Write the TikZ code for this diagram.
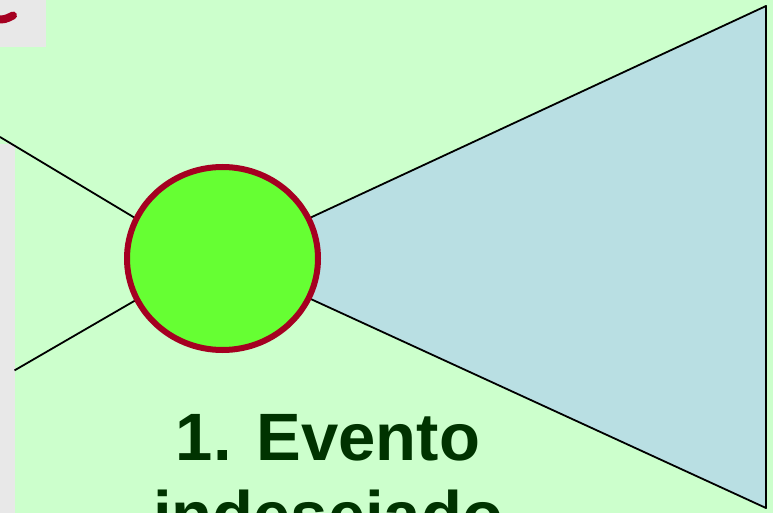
\documentclass[tikz,border=0pt]{standalone}
\usepackage{fontspec}
\setmainfont{Liberation Sans}
\usetikzlibrary{shapes.geometric}
\definecolor{bgg}{HTML}{CCFFCC}
\definecolor{panelgray}{HTML}{E8E8E8}
\definecolor{evred}{HTML}{A50021}
\definecolor{evgreen}{HTML}{66FF33}
\definecolor{conblue}{HTML}{B9DFE3}
\definecolor{txtgreen}{HTML}{003300}
\tikzset{
  edge/.style={draw=black, line width=1.8pt, line join=round},
  event/.style={ellipse, draw=evred, fill=evgreen, line width=6pt, minimum width=191pt, minimum height=183pt, inner sep=0pt},
  title/.style={text=txtgreen, font=\bfseries\fontsize{67}{67}\selectfont, anchor=base, inner sep=0pt}
}
\begin{document}
\begin{tikzpicture}[x=1pt,y=-1pt]
\useasboundingbox (0,0) rectangle (773,513);
\clip (0,0) rectangle (773,513);
\fill[bgg] (0,0) rectangle (773,513);
% top-left panel
\fill[panelgray] (0,0) rectangle (46,47);
\draw[evred, line width=8pt, line cap=round] (-4,19.5) .. controls (5,19.5) .. (13,15.5);
% left strip
\fill[panelgray] (0,144) rectangle (14.5,513);
% coordinates
\coordinate (cc) at (222.5,258.5);
\coordinate (lc) at (205,260);
\coordinate (tl) at (0,137);
\coordinate (bl) at (14.5,370.4);
\coordinate (tr) at (766,6);
\coordinate (br) at (766,508);
% consequence triangle
\fill[conblue] (cc) -- (tr) -- (br) -- cycle;
\draw[edge] (cc) -- (tr) -- (br) -- (cc);
% causes
\draw[edge] (tl) -- (lc);
\draw[edge] (bl) -- (lc);
% event
\node[event] (ev) at (cc) {};
% text
\node[title] (t1) at (328,460) {1. Evento};
\node[title] (t2) at (328,538) {indesejado};
\end{tikzpicture}
\end{document}
